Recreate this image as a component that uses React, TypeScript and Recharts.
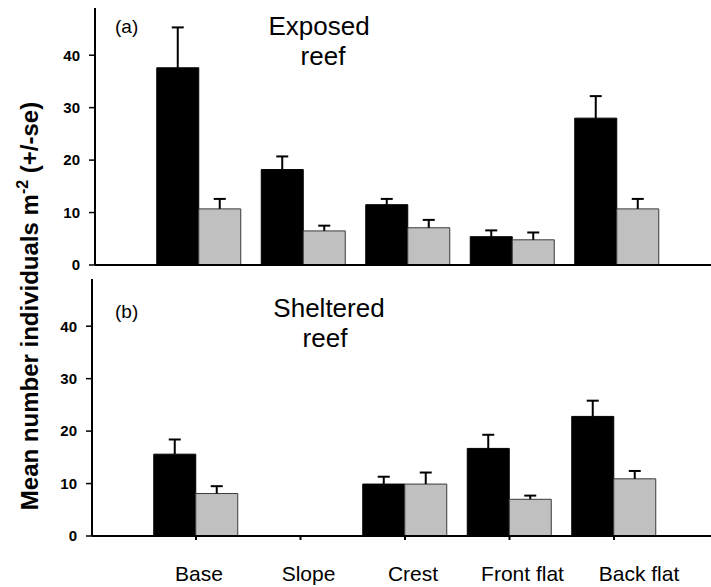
import React from 'react';
import { BarChart, Bar, XAxis, YAxis } from 'recharts';

// Reef zones along the x axis
const zones = ['Base', 'Slope', 'Crest', 'Front flat', 'Back flat'];

// (a) Exposed reef: means and standard errors
const exposedDark = [37.6, 18.2, 11.5, 5.4, 28.0];
const exposedDarkSe = [7.7, 2.5, 1.1, 1.2, 4.2];
const exposedLight = [10.7, 6.5, 7.1, 4.8, 10.7];
const exposedLightSe = [1.9, 1.0, 1.5, 1.4, 1.9];

// (b) Sheltered reef: no samples on the slope
const shelteredDark = [15.6, null, 9.9, 16.7, 22.8];
const shelteredDarkSe = [2.8, null, 1.4, 2.6, 3.0];
const shelteredLight = [8.1, null, 9.9, 7.0, 10.9];
const shelteredLightSe = [1.4, null, 2.2, 0.7, 1.5];

const yTicks = [0, 10, 20, 30, 40];
const yMax = 49;

// horizontal nudges for the zone labels under the lower panel
const LABEL_NUDGE = [3, 8, 8, 13, 25];

const FONT = 'Liberation Sans, Arial, Helvetica, sans-serif';
const LIGHT = '#c0c0c0';

const buildRows = (
  dark: (number | null)[],
  darkSe: (number | null)[],
  light: (number | null)[],
  lightSe: (number | null)[]
) =>
  zones.map((zone, i) => ({
    zone,
    dark: dark[i],
    darkSe: darkSe[i],
    light: light[i],
    lightSe: lightSe[i],
  }));

const exposedRows = buildRows(exposedDark, exposedDarkSe, exposedLight, exposedLightSe);
const shelteredRows = buildRows(shelteredDark, shelteredDarkSe, shelteredLight, shelteredLightSe);

// upward-only error whisker drawn on top of a stacked segment
const Whisker = (props: any) => {
  const { x, y, width, height } = props;
  if (height == null || !(height > 0)) return null;
  const cx = x + width / 2;
  return (
    <g>
      <line x1={cx} y1={y + height} x2={cx} y2={y} stroke="#000" strokeWidth={2} />
      <line x1={cx - 6} y1={y} x2={cx + 6} y2={y} stroke="#000" strokeWidth={2} />
    </g>
  );
};

const ZoneTick = (props: any) => {
  const { x, y, payload, index } = props;
  return (
    <text
      x={x + (LABEL_NUDGE[index] || 0)}
      y={y}
      dy={15}
      textAnchor="middle"
      fontFamily={FONT}
      fontSize={21}
      fill="#000"
    >
      {payload.value}
    </text>
  );
};

const yAxisProps = {
  type: 'number' as const,
  domain: [0, yMax],
  ticks: yTicks,
  tickSize: 6,
  tickMargin: 9,
  axisLine: { stroke: '#000', strokeWidth: 2 },
  tickLine: { stroke: '#000', strokeWidth: 1.5 },
  tick: { fontFamily: FONT, fontSize: 15, fontWeight: 'bold', fill: '#000' },
  allowDataOverflow: true,
};

const renderSeries = () => [
  <Bar key="d" dataKey="dark" stackId="dark" fill="#000" stroke="#000" strokeWidth={1} isAnimationActive={false} />,
  <Bar key="de" dataKey="darkSe" stackId="dark" fill="none" shape={<Whisker />} isAnimationActive={false} />,
  <Bar key="l" dataKey="light" stackId="light" fill={LIGHT} stroke="#3a3a3a" strokeWidth={1} isAnimationActive={false} />,
  <Bar key="le" dataKey="lightSe" stackId="light" fill="none" shape={<Whisker />} isAnimationActive={false} />,
];

export default function App() {
  return (
    <div style={{ position: 'absolute', left: 0, top: 0, width: 711, height: 587, background: '#fff' }}>
      {/* (a) exposed reef */}
      <div style={{ position: 'absolute', left: 0, top: 0 }}>
        <BarChart
          width={711}
          height={280}
          data={exposedRows}
          margin={{ top: 8, right: 0, bottom: 0, left: 0 }}
          barSize={42}
          barGap={0}
        >
          <XAxis
            dataKey="zone"
            height={15}
            padding={{ left: 51.75, right: 41.75 }}
            axisLine={{ stroke: '#000', strokeWidth: 2 }}
            tickLine={{ stroke: '#000', strokeWidth: 2 }}
            tickSize={4}
            tick={false}
          />
          <YAxis width={95} {...yAxisProps} />
          {renderSeries()}
        </BarChart>
      </div>

      {/* (b) sheltered reef */}
      <div style={{ position: 'absolute', left: 0, top: 0 }}>
        <BarChart
          width={711}
          height={587}
          data={shelteredRows}
          margin={{ top: 279, right: 0, bottom: 0, left: 0 }}
          barSize={42}
          barGap={0}
        >
          <XAxis
            dataKey="zone"
            height={51}
            padding={{ left: 51.75, right: 44.75 }}
            axisLine={{ stroke: '#000', strokeWidth: 2 }}
            tickLine={{ stroke: '#000', strokeWidth: 2 }}
            tickSize={4}
            tickMargin={26}
            tick={<ZoneTick />}
            interval={0}
          />
          <YAxis width={92} {...yAxisProps} />
          {renderSeries()}
        </BarChart>
      </div>

      {/* panel captions and shared y axis title */}
      <svg
        width={711}
        height={587}
        style={{ position: 'absolute', left: 0, top: 0, pointerEvents: 'none' }}
        fontFamily={FONT}
      >
        <text x={115} y={33} fontSize={19} fill="#000">(a)</text>
        <text x={319} y={35} fontSize={26} textAnchor="middle" fill="#000">Exposed</text>
        <text x={323} y={65} fontSize={26} textAnchor="middle" fill="#000">reef</text>

        <text x={115} y={318} fontSize={19} fill="#000">(b)</text>
        <text x={329} y={317} fontSize={26} textAnchor="middle" fill="#000">Sheltered</text>
        <text x={325} y={347} fontSize={26} textAnchor="middle" fill="#000">reef</text>

        <text
          x={38}
          y={306}
          transform="rotate(-90, 38, 306)"
          textAnchor="middle"
          fontSize={24}
          fontWeight="bold"
          fill="#000"
        >
          Mean number individuals m
          <tspan fontSize={16} dy={-10}>-2</tspan>
          <tspan dy={10}> (+/-se)</tspan>
        </text>
      </svg>
    </div>
  );
}
